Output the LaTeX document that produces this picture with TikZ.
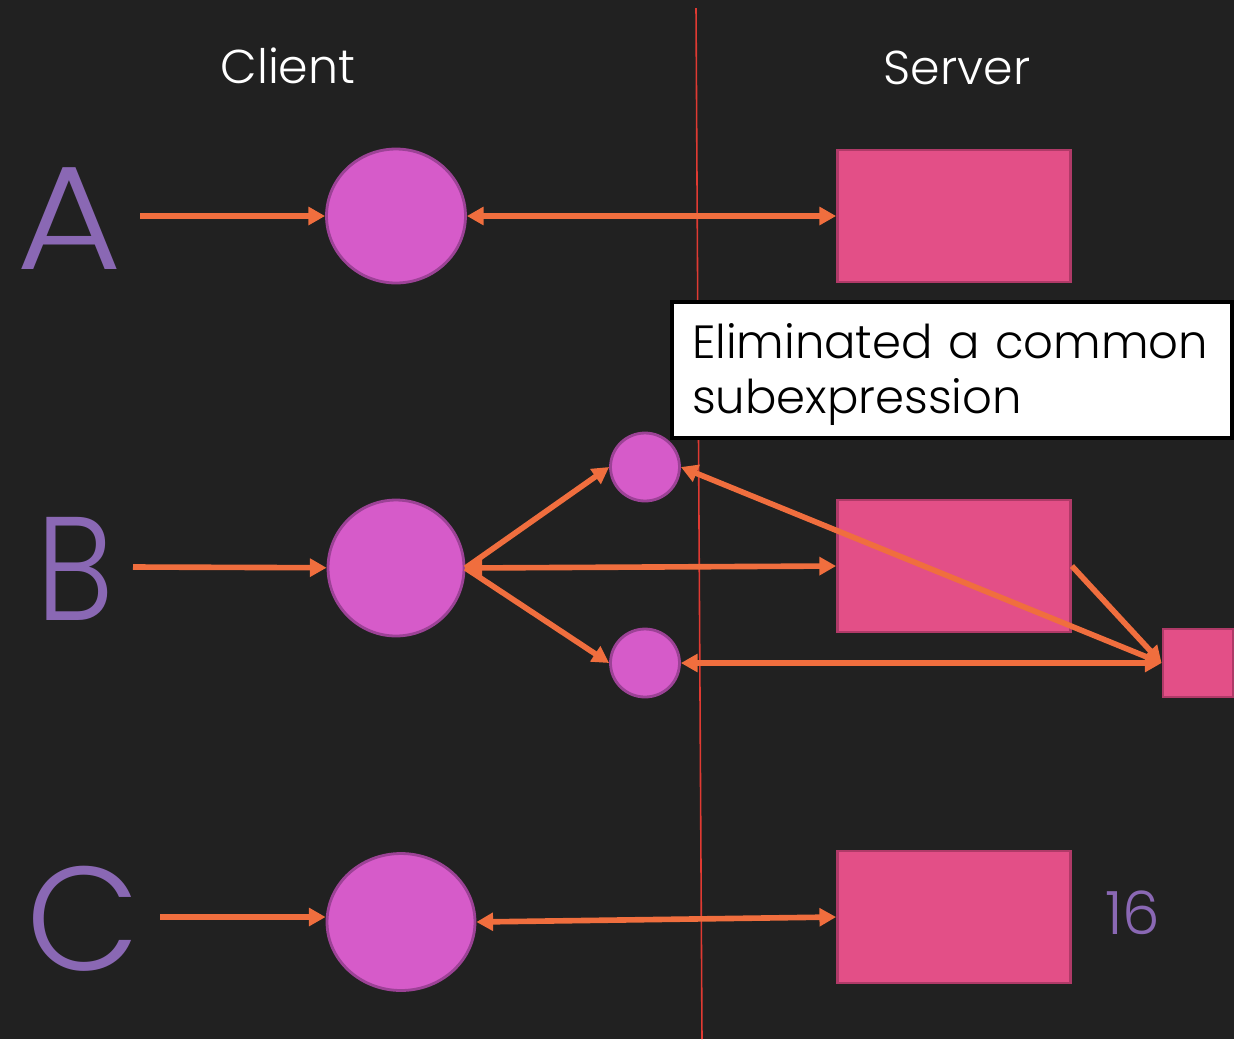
\documentclass[tikz,border=0pt]{standalone}
\usepackage{fontspec}
\setmainfont{Poppins Light}
\usetikzlibrary{positioning, shapes.geometric, arrows.meta}
\definecolor{slideBg}{HTML}{212121}
\definecolor{cseLetter}{HTML}{8A68B4}
\definecolor{cseCall}{HTML}{D65BC9}
\definecolor{cseCallLine}{HTML}{9C4296}
\definecolor{cseQuery}{HTML}{E34F87}
\definecolor{cseQueryLine}{HTML}{B03A68}
\definecolor{cseArrow}{HTML}{F06E3E}
\definecolor{cseSplit}{HTML}{E03A32}
\tikzset{
    call/.style={
        ellipse,
        draw=cseCallLine,
        fill=cseCall,
        line width=1.6pt,
        inner sep=0pt
    },
    query/.style={
        rectangle,
        draw=cseQueryLine,
        fill=cseQuery,
        line width=1.6pt,
        inner sep=0pt
    },
    rowLetter/.style={text=cseLetter, font=\fontsize{84}{84}\selectfont, inner sep=0pt},
    side/.style={text=white, font=\fontsize{27}{27}\selectfont, inner sep=0pt}
}
\begin{document}
\begin{tikzpicture}[
  x=0.02cm, y=-0.02cm,
  arr/.style={-{Triangle[length=9.5pt,width=10pt]}, line width=3.2pt, draw=cseArrow},
  darr/.style={{Triangle[length=9.5pt,width=10pt]}-{Triangle[length=9.5pt,width=10pt]}, line width=3.2pt, draw=cseArrow},
  note/.style={draw=black, fill=white, line width=1.8pt, align=left, text width=10.4cm, minimum width=11.2cm, minimum height=2.72cm, font=\fontsize{26.5}{31.5}\selectfont}
]
\fill[slideBg] (0,0) rectangle (1234,1039);
\useasboundingbox (0,0) rectangle (1234,1039);

% client / server split
\coordinate (splitTop) at (696,8);
\coordinate (splitBot) at (702,1039);
\draw[cseSplit, line width=0.9pt] (splitTop) -- (splitBot);

\node[side] (client) at (288,66) {Client};
\node[side] (server) at (957,68) {Server};

\node[rowLetter, xscale=1.1] (lA) at (69,219) {A};
\node[rowLetter, xscale=0.88] (lB) at (75,569) {B};
\node[rowLetter] (lC) at (83,919) {C};

% row A
\coordinate (inA) at (140,216);
\node[call, minimum width=2.78cm, minimum height=2.68cm] (cA) at (396,216) {};
\node[query, minimum width=4.66cm, minimum height=2.64cm] (rA) at (954,216) {};

% row B
\coordinate (inB) at (133,567);
\node[call, minimum width=2.72cm, minimum height=2.72cm] (cB) at (396,568) {};
\node[call, minimum width=1.38cm, minimum height=1.36cm] (sTop) at (645,467) {};
\node[call, minimum width=1.38cm, minimum height=1.36cm] (sBot) at (645,663) {};
\node[query, minimum width=4.66cm, minimum height=2.64cm] (rB) at (954,566) {};
\node[query, minimum width=1.4cm, minimum height=1.36cm] (sq) at (1198,663) {};

% row C
\coordinate (inC) at (160,917);
\node[call, minimum width=2.96cm, minimum height=2.74cm] (cC) at (401,922) {};
\node[query, minimum width=4.66cm, minimum height=2.64cm] (rC) at (954,917) {};

\node[text=cseLetter, font=\fontsize{34}{34}\selectfont, inner sep=0pt] (page) at (1133,913) {16};

\draw[arr] (inA) -- (cA);
\draw[darr] (cA) -- (rA);

\draw[arr] (inB) -- (cB);
\draw[arr] (cB.east) -- (sTop.west);
\draw[arr] (cB.east) -- (sBot.west);
\draw[darr] (cB.east) -- (rB.west);
\draw[arr] (rB.east) -- (sq.west);
\draw[darr] (sTop.east) -- (sq.west);
\draw[darr] (sBot) -- (sq.west);

\draw[arr] (inC) -- (cC.west |- inC);
\draw[darr] (cC.east) -- (rC.west);

\node[note] (cse) at (952,370) {\hyphenpenalty=10000\rule{0pt}{25pt}Eliminated a common\\subexpression};
\end{tikzpicture}
\end{document}
